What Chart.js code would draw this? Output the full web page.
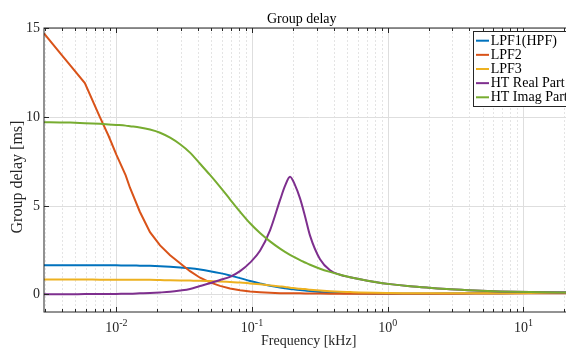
<!DOCTYPE html>
<html>
<head>
<meta charset="utf-8">
<script src="https://cdn.jsdelivr.net/npm/chart.js@4/dist/chart.umd.min.js"></script>
<style>
    html, body { margin: 0; padding: 0; background: #ffffff; overflow: hidden; }
    #contenedor { width: 580px; height: 349px; }
</style>
</head>
<body>
<div id="contenedor"><canvas id="grafico" width="580" height="349"></canvas></div>
<script>
// Datos: frecuencia en kHz y retardo de grupo en ms
var frecuencias = [0.00293, 0.00384, 0.00456, 0.00586, 0.00758, 0.00879, 0.01, 0.01172, 0.0126, 0.0149,
    0.0177, 0.021, 0.0249, 0.0295, 0.0349, 0.0414, 0.049, 0.0581, 0.0688, 0.0816,
    0.0967, 0.1145, 0.1357, 0.1608, 0.175, 0.1905, 0.2074, 0.2258, 0.2457, 0.2676,
    0.317, 0.3756, 0.4452, 0.5275, 0.625, 0.806, 1.04, 1.46, 2.05, 2.88,
    4.4, 6.72, 11.2, 24];

var retardoLPF1 = [1.64, 1.64, 1.64, 1.64, 1.63, 1.63, 1.63, 1.62, 1.62, 1.61,
    1.6, 1.58, 1.55, 1.51, 1.46, 1.39, 1.3, 1.19, 1.06, 0.91,
    0.75, 0.61, 0.48, 0.38, 0.34, 0.3, 0.27, 0.24, 0.21, 0.18,
    0.13, 0.09, 0.07, 0.05, 0.04, 0.03, 0.03, 0.03, 0.03, 0.04,
    0.05, 0.06, 0.08, 0.1];

var retardoLPF2 = [14.7, 13.6, 12.91, 11.9, 9.96, 8.9, 7.87, 6.7, 6.0, 4.65,
    3.5, 2.75, 2.2, 1.75, 1.3, 0.93, 0.67, 0.47, 0.32, 0.22,
    0.15, 0.11, 0.08, 0.06, 0.06, 0.05, 0.05, 0.05, 0.04, 0.04,
    0.04, 0.03, 0.03, 0.03, 0.03, 0.03, 0.03, 0.03, 0.03, 0.03,
    0.04, 0.04, 0.05, 0.05];

var retardoLPF3 = [0.83, 0.83, 0.83, 0.83, 0.82, 0.82, 0.82, 0.82, 0.82, 0.81,
    0.81, 0.8, 0.79, 0.78, 0.77, 0.76, 0.74, 0.72, 0.69, 0.66,
    0.61, 0.56, 0.5, 0.44, 0.41, 0.37, 0.34, 0.31, 0.29, 0.26,
    0.21, 0.17, 0.14, 0.12, 0.1, 0.08, 0.07, 0.06, 0.05, 0.05,
    0.05, 0.06, 0.07, 0.08];

var retardoHTReal = [0.0, 0.0, 0.0, 0.01, 0.01, 0.02, 0.02, 0.03, 0.03, 0.05,
    0.07, 0.1, 0.14, 0.21, 0.3, 0.46, 0.62, 0.8, 0.98, 1.3,
    1.78, 2.45, 3.6, 5.3, 6.1, 6.62, 6.15, 5.4, 4.4, 3.3,
    1.97, 1.35, 1.1, 0.96, 0.84, 0.69, 0.57, 0.45, 0.36, 0.28,
    0.21, 0.16, 0.12, 0.1];

var retardoHTImag = [9.69, 9.68, 9.67, 9.64, 9.6, 9.57, 9.54, 9.5, 9.47, 9.4,
    9.28, 9.1, 8.82, 8.45, 7.98, 7.35, 6.72, 6.05, 5.35, 4.65,
    4.0, 3.45, 2.98, 2.57, 2.39, 2.22, 2.07, 1.92, 1.79, 1.66,
    1.44, 1.26, 1.1, 0.96, 0.84, 0.69, 0.57, 0.45, 0.36, 0.28,
    0.21, 0.16, 0.12, 0.1];

var etiquetas = ['LPF1(HPF)', 'LPF2', 'LPF3', 'HT Real Part', 'HT Imag Part'];
var colores = ['#0072BD', '#D95319', '#EDB120', '#7E2F8E', '#77AC30'];

var freqMin = 0.00293, freqMax = 24;
var retardoMin = -1, retardoMax = 15;
var ticksY = [0, 5, 10, 15];
var decadasX = [-2, -1, 0, 1];

var fuente = '"Liberation Serif", "Times New Roman", serif';

function puntos(valores) {
    return frecuencias.map(function(f, i) { return { x: f, y: valores[i] }; });
}

// Marcas del eje x (1..9 en cada decada)
function marcasX() {
    var lista = [];
    for (var e = -3; e <= 1; e++) {
        for (var m = 1; m <= 9; m++) {
            var f = m * Math.pow(10, e);
            if (f >= freqMin && f <= freqMax) lista.push({ f: f, mayor: m === 1 });
        }
    }
    return lista;
}

// Ejes estilo MATLAB dibujados con las escalas de Chart.js
var ejesMatlab = {
    id: 'ejesMatlab',
    beforeDatasetsDraw: function(chart) {
        var ctx = chart.ctx, a = chart.chartArea;
        var sx = chart.scales.x, sy = chart.scales.y;
        ctx.save();
        ctx.lineWidth = 1;
        marcasX().forEach(function(t) {
            var px = Math.round(sx.getPixelForValue(t.f)) + 0.5;
            if (t.mayor) { ctx.setLineDash([]); ctx.strokeStyle = '#dedede'; }
            else { ctx.setLineDash([2, 2]); ctx.strokeStyle = '#e4e4e4'; }
            ctx.beginPath(); ctx.moveTo(px, a.top); ctx.lineTo(px, a.bottom); ctx.stroke();
        });
        ctx.setLineDash([]);
        ctx.strokeStyle = '#dedede';
        ticksY.forEach(function(v) {
            var py = Math.round(sy.getPixelForValue(v)) + 0.5;
            ctx.beginPath(); ctx.moveTo(a.left, py); ctx.lineTo(a.right, py); ctx.stroke();
        });
        ctx.restore();
    },
    afterDatasetsDraw: function(chart) {
        var ctx = chart.ctx, a = chart.chartArea;
        var sx = chart.scales.x, sy = chart.scales.y;
        ctx.save();
        ctx.strokeStyle = '#262626';
        ctx.lineWidth = 1;
        ctx.strokeRect(a.left, a.top, a.right - a.left, a.bottom - a.top);

        // marcas del eje x (abajo y arriba)
        marcasX().forEach(function(t) {
            var px = Math.round(sx.getPixelForValue(t.f)) + 0.5;
            var largo = t.mayor ? 5 : 3;
            ctx.beginPath();
            ctx.moveTo(px, a.bottom); ctx.lineTo(px, a.bottom - largo);
            ctx.moveTo(px, a.top); ctx.lineTo(px, a.top + largo);
            ctx.stroke();
        });
        // marcas y etiquetas del eje y
        ctx.fillStyle = '#262626';
        ctx.font = '14px ' + fuente;
        ctx.textAlign = 'right';
        ctx.textBaseline = 'middle';
        ticksY.forEach(function(v) {
            var py = Math.round(sy.getPixelForValue(v)) + 0.5;
            ctx.beginPath(); ctx.moveTo(a.left, py); ctx.lineTo(a.left + 5, py); ctx.stroke();
            ctx.fillText(String(v), a.left - 4, py);
        });
        // etiquetas del eje x: 10 con exponente
        ctx.textAlign = 'left';
        ctx.textBaseline = 'alphabetic';
        decadasX.forEach(function(d) {
            var px = sx.getPixelForValue(Math.pow(10, d));
            ctx.font = '14px ' + fuente;
            var wBase = ctx.measureText('10').width;
            ctx.font = '10px ' + fuente;
            var wExp = ctx.measureText(String(d)).width;
            var x0 = px - (wBase + wExp) / 2;
            ctx.font = '14px ' + fuente;
            ctx.fillText('10', x0, 332);
            ctx.font = '10px ' + fuente;
            ctx.fillText(String(d), x0 + wBase, 326);
        });
        // titulos
        ctx.font = '14px ' + fuente;
        ctx.textAlign = 'center';
        ctx.fillText('Frequency [kHz]', 308.7, 345);
        ctx.fillStyle = '#000000';
        ctx.fillText('Group delay', 301.7, 22.7);
        ctx.save();
        ctx.fillStyle = '#262626';
        ctx.translate(21.5, 177);
        ctx.rotate(-Math.PI / 2);
        ctx.font = '16px ' + fuente;
        ctx.fillText('Group delay [ms]', 0, 0);
        ctx.restore();

        // leyenda
        var lx = 473.5, ly = 31.5, lw = 100, lh = 75;
        ctx.fillStyle = '#ffffff';
        ctx.fillRect(lx, ly, lw, lh);
        ctx.strokeStyle = '#262626';
        ctx.strokeRect(lx, ly, lw, lh);
        ctx.font = '14px ' + fuente;
        ctx.textAlign = 'left';
        ctx.textBaseline = 'middle';
        chart.data.datasets.forEach(function(ds, i) {
            var yy = 40.7 + i * 14.15;
            ctx.strokeStyle = ds.borderColor;
            ctx.lineWidth = 2;
            ctx.beginPath(); ctx.moveTo(476, yy); ctx.lineTo(489, yy); ctx.stroke();
            ctx.fillStyle = '#000000';
            ctx.fillText(ds.label, 490.7, yy + 0.5);
        });
        ctx.restore();
    }
};

document.addEventListener('DOMContentLoaded', function() {
    var ctxGrafico = document.getElementById('grafico').getContext('2d');

    var series = [retardoLPF1, retardoLPF2, retardoLPF3, retardoHTReal, retardoHTImag];

    var datasets = series.map(function(valores, i) {
        return {
            label: etiquetas[i],
            data: puntos(valores),
            borderColor: colores[i],
            backgroundColor: colores[i],
            borderWidth: 2,
            pointRadius: 0,
            fill: false,
            order: 5 - i,
            // LPF2 tiene quiebres en los primeros bins, se deja recta
            tension: i === 1 ? 0 : 0.4,
            cubicInterpolationMode: i === 1 ? 'default' : 'monotone'
        };
    });

    var grafico = new Chart(ctxGrafico, {
        type: 'line',
        data: { datasets: datasets },
        options: {
            responsive: false,
            animation: false,
            layout: { padding: { left: 44, top: 28, right: 5, bottom: 37 } },
            plugins: { legend: { display: false }, tooltip: { enabled: false }, title: { display: false } },
            scales: {
                x: { type: 'logarithmic', min: freqMin, max: freqMax, display: false },
                y: { type: 'linear', min: retardoMin, max: retardoMax, display: false }
            }
        },
        plugins: [ejesMatlab]
    });
});
</script>
</body>
</html>
